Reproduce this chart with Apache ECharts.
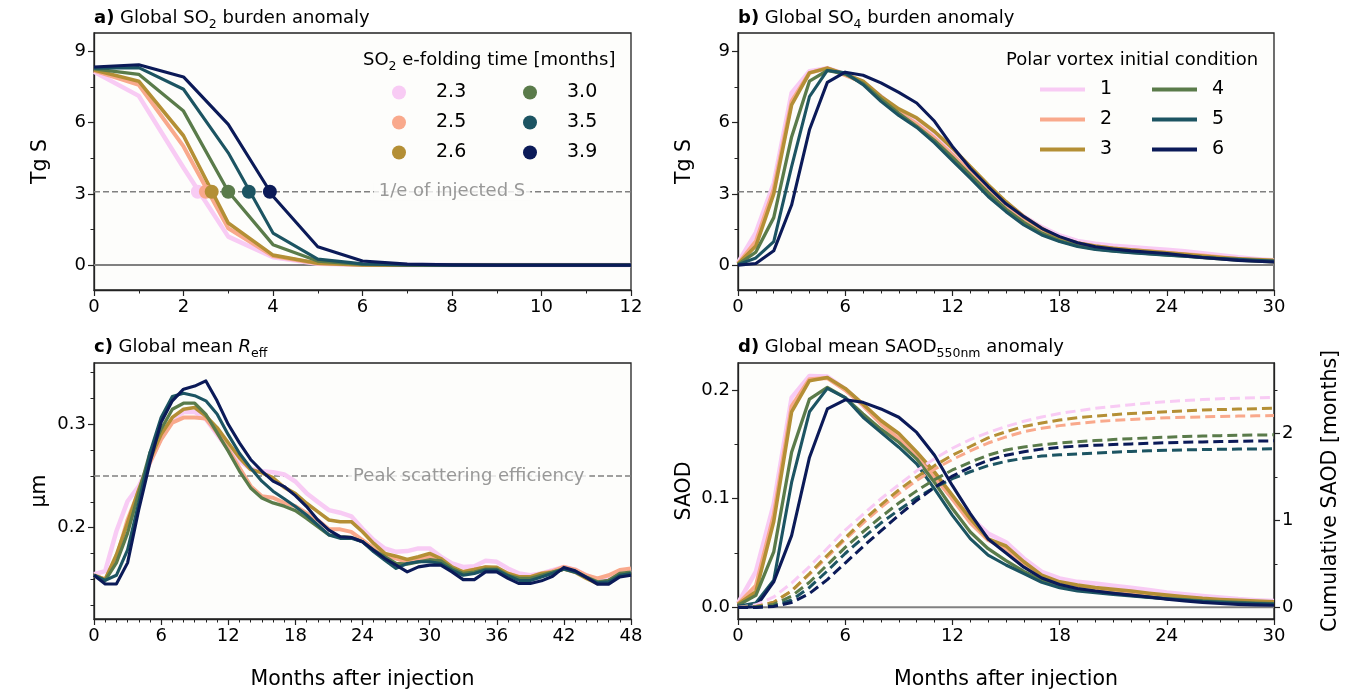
<!DOCTYPE html>
<html><head><meta charset="utf-8">
<script src="https://cdn.jsdelivr.net/npm/echarts@6/dist/echarts.min.js"></script>
<style>html,body{margin:0;padding:0;background:#fff}#c{width:1352px;height:695px}</style>
</head><body><div id="c"></div>
<script>
// ---------------- DATA ----------------
const efoldNames = ['2.3','2.5','2.6','3.0','3.5','3.9'];
const efoldTimes = [2.32, 2.5, 2.63, 3.0, 3.46, 3.93];
const vortexNames = ['1','2','3','4','5','6'];
const oneOverE = 3.09;
const peakScatter = 0.25;
const efoldLabelX = 8;
const peakLabelX = 33.5;

// a) SO2 burden, months 0..12
const so2_1 = [8.15, 7.13, 4.1, 1.2, 0.33, 0.06, 0.01, 0, 0, 0, 0, 0, 0];
const so2_2 = [8.2, 7.6, 5.0, 1.55, 0.38, 0.07, 0.01, 0, 0, 0, 0, 0, 0];
const so2_3 = [8.22, 7.75, 5.45, 1.77, 0.42, 0.08, 0.01, 0, 0, 0, 0, 0, 0];
const so2_4 = [8.27, 8.04, 6.49, 3.1, 0.86, 0.17, 0.03, 0.005, 0, 0, 0, 0, 0];
const so2_5 = [8.3, 8.32, 7.41, 4.73, 1.35, 0.25, 0.05, 0.01, 0, 0, 0, 0, 0];
const so2_6 = [8.35, 8.44, 7.93, 5.93, 2.9, 0.77, 0.17, 0.04, 0.01, 0, 0, 0, 0];

// b) SO4 burden, months 0..30
const so4_1 = [0.1,1.37,3.45,7.25,8.17,8.3,8.05,7.7,7.1,6.5,6.05,5.45,4.75,4.0,3.3,2.62,2.05,1.6,1.25,1.02,0.9,0.82,0.76,0.7,0.65,0.58,0.5,0.42,0.33,0.26,0.2];
const so4_2 = [0.05,1.0,3.2,6.9,8.1,8.3,8.0,7.7,7.05,6.45,5.95,5.35,4.65,3.9,3.2,2.5,1.95,1.5,1.15,0.92,0.78,0.7,0.63,0.58,0.52,0.46,0.4,0.33,0.26,0.2,0.15];
const so4_3 = [0.05,0.8,3.0,6.75,8.1,8.3,8.05,7.75,7.11,6.58,6.2,5.63,4.93,4.15,3.38,2.67,2.04,1.55,1.15,0.93,0.8,0.71,0.64,0.58,0.52,0.45,0.38,0.32,0.27,0.23,0.2];
const so4_4 = [0.03,0.55,2.0,5.4,7.75,8.2,8.05,7.65,7.0,6.4,5.85,5.25,4.55,3.8,3.05,2.35,1.8,1.35,1.02,0.82,0.68,0.6,0.54,0.48,0.43,0.38,0.32,0.26,0.21,0.17,0.14];
const so4_5 = [0.02,0.3,0.99,4.15,7.1,8.2,8.1,7.6,6.9,6.3,5.8,5.15,4.4,3.66,2.89,2.25,1.69,1.27,0.99,0.78,0.66,0.58,0.52,0.47,0.42,0.37,0.32,0.28,0.24,0.2,0.17];
const so4_6 = [0,0.07,0.6,2.53,5.7,7.7,8.13,8.0,7.68,7.28,6.83,6.06,5.0,4.08,3.31,2.58,2.04,1.55,1.2,0.94,0.77,0.68,0.6,0.54,0.49,0.4,0.32,0.26,0.2,0.16,0.13];

// c) Reff (um), months 0..48
const reff_1 = [0.155,0.158,0.1965,0.2256,0.24,0.263,0.2868,0.3033,0.312,0.312,0.3049,0.2903,0.2757,0.2644,0.257,0.2547,0.2537,0.2515,0.2447,0.2334,0.225,0.217,0.2145,0.211,0.199,0.1881,0.1799,0.1767,0.1774,0.18,0.18,0.172,0.1654,0.162,0.1628,0.168,0.167,0.1605,0.1557,0.154,0.1557,0.159,0.162,0.1595,0.154,0.1498,0.1524,0.157,0.159];
const reff_2 = [0.154,0.15,0.1705,0.2078,0.2353,0.263,0.2854,0.3017,0.3065,0.3065,0.3055,0.292,0.2757,0.2579,0.2402,0.2305,0.229,0.224,0.2208,0.214,0.2075,0.1984,0.1984,0.196,0.188,0.18,0.1735,0.1702,0.167,0.1693,0.172,0.169,0.16,0.1573,0.1595,0.1616,0.1606,0.1557,0.1524,0.1524,0.1557,0.158,0.162,0.1595,0.154,0.151,0.154,0.159,0.1606];
const reff_3 = [0.154,0.15,0.1738,0.2046,0.2369,0.266,0.2903,0.3067,0.3146,0.3162,0.3081,0.2968,0.2822,0.2677,0.2563,0.2531,0.2483,0.239,0.233,0.2236,0.2155,0.2075,0.2058,0.2058,0.1961,0.1848,0.1751,0.1725,0.1693,0.172,0.1751,0.1702,0.162,0.1573,0.1595,0.162,0.1616,0.1557,0.1524,0.1524,0.1557,0.157,0.16,0.157,0.151,0.146,0.149,0.155,0.156];
const reff_4 = [0.154,0.149,0.166,0.1948,0.2337,0.2725,0.2952,0.3146,0.3204,0.3204,0.3096,0.2919,0.2741,0.2548,0.2385,0.2288,0.224,0.2208,0.2165,0.209,0.201,0.193,0.1913,0.1906,0.1864,0.1783,0.172,0.1654,0.1648,0.167,0.169,0.168,0.1606,0.1557,0.157,0.16,0.16,0.154,0.151,0.151,0.154,0.157,0.16,0.158,0.1524,0.1476,0.149,0.1557,0.157];
const reff_5 = [0.154,0.149,0.154,0.1786,0.224,0.2725,0.3067,0.327,0.33,0.3277,0.3227,0.31,0.29,0.272,0.2578,0.245,0.2353,0.228,0.2205,0.2123,0.2026,0.193,0.1897,0.1897,0.1864,0.1767,0.1686,0.1606,0.1654,0.167,0.167,0.1654,0.159,0.154,0.1557,0.159,0.159,0.1535,0.149,0.149,0.1524,0.156,0.16,0.157,0.152,0.1467,0.1476,0.154,0.1557];
const reff_6 = [0.154,0.1456,0.1456,0.166,0.2175,0.263,0.302,0.3227,0.334,0.337,0.342,0.3227,0.3,0.282,0.266,0.2548,0.245,0.2398,0.231,0.2204,0.2075,0.1977,0.1913,0.1906,0.1864,0.1783,0.1702,0.1638,0.1573,0.1621,0.1638,0.1638,0.1573,0.1498,0.1498,0.1573,0.1573,0.151,0.146,0.146,0.1486,0.153,0.1616,0.1584,0.152,0.1454,0.1454,0.1524,0.154];

// d) SAOD anomaly, months 0..30
const saod_1 = [0.004,0.033,0.095,0.193,0.213,0.2125,0.201,0.186,0.17,0.157,0.14,0.122,0.1,0.083,0.068,0.06,0.045,0.0327,0.0266,0.0235,0.022,0.02,0.018,0.016,0.0138,0.012,0.0104,0.009,0.0076,0.0066,0.0058];
const saod_2 = [0.003,0.02,0.085,0.185,0.21,0.211,0.2,0.186,0.169,0.155,0.138,0.12,0.1,0.078,0.062,0.054,0.04,0.028,0.021,0.018,0.016,0.0145,0.013,0.0115,0.01,0.0085,0.007,0.006,0.0055,0.005,0.0045];
const saod_3 = [0.003,0.0144,0.079,0.18,0.2086,0.2116,0.2015,0.187,0.172,0.16,0.143,0.1245,0.103,0.0817,0.063,0.0565,0.042,0.0297,0.0235,0.0205,0.0183,0.0166,0.015,0.013,0.0113,0.0098,0.0083,0.0073,0.0064,0.0058,0.0052];
const saod_4 = [0.002,0.011,0.051,0.1428,0.1917,0.2024,0.193,0.178,0.164,0.152,0.1367,0.115,0.091,0.0694,0.054,0.043,0.033,0.025,0.019,0.016,0.0145,0.0128,0.011,0.0095,0.008,0.007,0.006,0.0052,0.0045,0.004,0.0035];
const saod_5 = [0.001,0.004,0.025,0.115,0.18,0.2015,0.193,0.175,0.161,0.1474,0.132,0.109,0.0847,0.0633,0.048,0.039,0.031,0.023,0.018,0.015,0.0135,0.012,0.0105,0.0092,0.008,0.0068,0.0055,0.0047,0.004,0.0035,0.003];
const saod_6 = [0,0.0006,0.0235,0.066,0.138,0.1826,0.191,0.1887,0.1826,0.175,0.161,0.14,0.112,0.0863,0.063,0.05,0.037,0.027,0.021,0.0174,0.015,0.013,0.0113,0.0095,0.0076,0.006,0.0046,0.0036,0.0028,0.0023,0.002];

// d) cumulative SAOD (months), months 0..30
const cum_1 = [0,0.03,0.12,0.28,0.47,0.68,0.89,1.07,1.25,1.41,1.57,1.71,1.83,1.93,2.01,2.08,2.14,2.19,2.23,2.26,2.29,2.31,2.33,2.35,2.365,2.38,2.39,2.4,2.405,2.41,2.416];
const cum_2 = [0,0.01,0.06,0.19,0.38,0.58,0.78,0.97,1.15,1.31,1.46,1.59,1.7,1.8,1.89,1.96,2.02,2.06,2.09,2.115,2.135,2.15,2.16,2.17,2.18,2.185,2.19,2.195,2.2,2.203,2.206];
const cum_3 = [0,0.01,0.06,0.19,0.39,0.6,0.8,1.0,1.18,1.35,1.5,1.63,1.75,1.85,1.95,2.02,2.08,2.12,2.155,2.18,2.2,2.215,2.23,2.24,2.25,2.26,2.27,2.275,2.28,2.285,2.29];
const cum_4 = [0,0.005,0.035,0.13,0.29,0.49,0.69,0.87,1.04,1.2,1.34,1.47,1.58,1.67,1.75,1.81,1.845,1.87,1.89,1.905,1.918,1.93,1.94,1.95,1.957,1.965,1.97,1.975,1.979,1.982,1.984];
const cum_5 = [0,0.002,0.015,0.085,0.23,0.42,0.62,0.8,0.97,1.12,1.26,1.38,1.48,1.56,1.63,1.68,1.715,1.74,1.755,1.765,1.775,1.785,1.793,1.8,1.806,1.811,1.815,1.818,1.82,1.822,1.823];
const cum_6 = [0,0.0003,0.012,0.057,0.16,0.32,0.51,0.7,0.88,1.06,1.23,1.38,1.51,1.61,1.69,1.75,1.79,1.82,1.84,1.855,1.865,1.873,1.88,1.887,1.893,1.898,1.903,1.907,1.91,1.913,1.915];

// tick values
const ticksTg = [0, 3, 6, 9];
const minorTg = [1.5, 4.5, 7.5];
const ticksReff = [0.2, 0.3];
const minorReff = [0.125, 0.15, 0.175, 0.225, 0.25, 0.275, 0.325, 0.35];
const ticksSaod = [0, 0.1, 0.2];
const minorSaod = [0.05, 0.15];
const ticksCum = [0, 1, 2];
const minorCum = [0.5, 1.5, 2.5];

// ---------------- STYLE ----------------
const COLORS = ['#F8CBF4', '#F9A98C', '#B48F35', '#5A7B4A', '#1C5462', '#0B1A58'];
const WIDTHS = [4.5, 4, 3.6, 3.3, 3.1, 3.1];
const BG = '#fdfdfb';
const INK = '#222222';
const FONT = 'DejaVu Sans';
const GRAY = '#808080';
const NAME_SIZE = 20.5;

const so2 = [so2_1, so2_2, so2_3, so2_4, so2_5, so2_6];
const so4 = [so4_1, so4_2, so4_3, so4_4, so4_5, so4_6];
const reff = [reff_1, reff_2, reff_3, reff_4, reff_5, reff_6];
const saod = [saod_1, saod_2, saod_3, saod_4, saod_5, saod_6];
const cum = [cum_1, cum_2, cum_3, cum_4, cum_5, cum_6];

const pairs = arr => arr.map((v, i) => [i, v]);

const grids = [
  {left: 94, top: 33, width: 537, height: 257},
  {left: 738, top: 33, width: 536, height: 257},
  {left: 94, top: 363, width: 537, height: 256},
  {left: 738, top: 363, width: 536, height: 256}
].map(g => Object.assign(g, {show: true, backgroundColor: BG, borderColor: INK, borderWidth: 1.3, containLabel: false}));

function xAx(grid, max, interval, split, name) {
  return {
    type: 'value', gridIndex: grid, min: 0, max: max, interval: interval,
    axisLine: {show: true, onZero: false, lineStyle: {color: INK, width: 1.3}},
    axisTick: {show: true, length: 6, lineStyle: {color: INK, width: 1.2}},
    minorTick: {show: true, splitNumber: split, length: 3.5, lineStyle: {color: INK, width: 1}},
    splitLine: {show: false}, minorSplitLine: {show: false},
    axisLabel: {fontSize: 18, color: '#000', fontFamily: FONT, margin: 8},
    name: name || '', nameLocation: 'middle', nameGap: 50,
    nameTextStyle: {fontSize: NAME_SIZE, color: '#000', fontFamily: FONT}
  };
}
function yMain(grid, min, max, ticks, fmt, name, pos, gap) {
  return {
    type: 'value', gridIndex: grid, min: min, max: max, position: pos || 'left',
    axisLine: {show: true, onZero: false, lineStyle: {color: INK, width: 1.3}},
    axisTick: {show: true, length: 6, customValues: ticks, lineStyle: {color: INK, width: 1.2}},
    axisLabel: {show: true, customValues: ticks, fontSize: 18, color: '#000', fontFamily: FONT, margin: 8, formatter: fmt},
    splitLine: {show: false},
    name: name, nameLocation: 'middle', nameGap: gap, nameRotate: 90,
    nameTextStyle: {fontSize: NAME_SIZE, color: '#000', fontFamily: FONT}
  };
}
function yMinor(grid, min, max, ticks, pos) {
  return {
    type: 'value', gridIndex: grid, min: min, max: max, position: pos || 'left',
    axisLine: {show: false, onZero: false},
    axisTick: {show: true, length: 3.5, customValues: ticks, lineStyle: {color: INK, width: 1}},
    axisLabel: {show: false},
    splitLine: {show: false}
  };
}

const xAxis = [
  xAx(0, 12, 2, 2),
  xAx(1, 30, 6, 6),
  xAx(2, 48, 6, 6, 'Months after injection'),
  xAx(3, 30, 6, 6, 'Months after injection')
];
const yAxis = [
  yMain(0, -1.05, 9.78, ticksTg, v => String(v), 'Tg S', 'left', 43),
  yMinor(0, -1.05, 9.78, minorTg),
  yMain(1, -1.05, 9.78, ticksTg, v => String(v), 'Tg S', 'left', 43),
  yMinor(1, -1.05, 9.78, minorTg),
  yMain(2, 0.1117, 0.3593, ticksReff, v => v.toFixed(1), 'µm', 'left', 44),
  yMinor(2, 0.1117, 0.3593, minorReff),
  yMain(3, -0.0107, 0.2249, ticksSaod, v => v.toFixed(1), 'SAOD', 'left', 43),
  yMinor(3, -0.0107, 0.2249, minorSaod),
  yMain(3, -0.133, 2.81, ticksCum, v => String(v), 'Cumulative SAOD [months]', 'right', 46),
  yMinor(3, -0.133, 2.81, minorCum, 'right')
];

const series = [];
function refLine(xi, yi, xmax, y, dashed, z) {
  series.push({
    type: 'line', xAxisIndex: xi, yAxisIndex: yi, data: [[0, y], [xmax, y]],
    symbol: 'none', silent: true, z: z,
    lineStyle: {color: GRAY, width: dashed ? 1.5 : 2, type: dashed ? [6, 3] : 'solid'}
  });
}
function lineSeries(name, xi, yi, arr, k, dashed) {
  series.push({
    name: name, type: 'line', xAxisIndex: xi, yAxisIndex: yi, data: pairs(arr),
    symbol: 'none', silent: true, z: 3,
    lineStyle: {color: COLORS[k], width: dashed ? 3 : WIDTHS[k], type: dashed ? [10, 5] : 'solid', cap: 'butt', join: 'round'},
    itemStyle: {color: COLORS[k]}
  });
}
function textMark(xi, yi, x, y, txt) {
  series.push({
    type: 'scatter', xAxisIndex: xi, yAxisIndex: yi, data: [[x, y]], symbolSize: 1, silent: true, z: 2,
    itemStyle: {color: 'rgba(0,0,0,0)'},
    label: {show: true, position: 'inside', formatter: txt, color: GRAY, fontSize: 18, fontFamily: FONT,
            backgroundColor: BG, padding: [0, 5]}
  });
}

// panel a
refLine(0, 0, 12, 0, false, 1);
refLine(0, 0, 12, oneOverE, true, 1);
textMark(0, 0, efoldLabelX, oneOverE, '1/e of injected S');
so2.forEach((arr, k) => lineSeries('a' + k, 0, 0, arr, k));
efoldTimes.forEach((t, k) => series.push({
  name: efoldNames[k], type: 'scatter', xAxisIndex: 0, yAxisIndex: 0, data: [[t, oneOverE]],
  symbol: 'circle', symbolSize: 14, z: 4, silent: true, itemStyle: {color: COLORS[k], opacity: 1}
}));
// panel b
refLine(1, 2, 30, 0, false, 1);
refLine(1, 2, 30, oneOverE, true, 1);
so4.forEach((arr, k) => lineSeries(vortexNames[k], 1, 2, arr, k));
// panel c
refLine(2, 4, 48, peakScatter, true, 1);
textMark(2, 4, peakLabelX, peakScatter, 'Peak scattering efficiency');
reff.forEach((arr, k) => lineSeries('c' + k, 2, 4, arr, k));
// panel d
refLine(3, 6, 30, 0, false, 1);
saod.forEach((arr, k) => lineSeries('d' + k, 3, 6, arr, k));
cum.forEach((arr, k) => lineSeries('e' + k, 3, 8, arr, k, true));

const titleStyle = {
  fontSize: 18, fontWeight: 'normal', color: '#000', fontFamily: FONT, lineHeight: 26,
  rich: {
    b: {fontSize: 18, fontWeight: 'bold', fontFamily: FONT, color: '#000', lineHeight: 26},
    s: {fontSize: 12.5, fontFamily: FONT, color: '#000', lineHeight: 13, verticalAlign: 'bottom'},
    i: {fontSize: 18, fontStyle: 'italic', fontFamily: FONT, color: '#000', lineHeight: 26}
  }
};
const title = [
  {left: 94, top: 5, padding: 0, text: '{b|a)} Global SO{s|2} burden anomaly', textStyle: titleStyle},
  {left: 738, top: 5, padding: 0, text: '{b|b)} Global SO{s|4} burden anomaly', textStyle: titleStyle},
  {left: 94, top: 334, padding: 0, text: '{b|c)} Global mean {i|R}{s|eff}', textStyle: titleStyle},
  {left: 738, top: 334, padding: 0, text: '{b|d)} Global mean SAOD{s|550nm} anomaly', textStyle: titleStyle},
  {left: 363, top: 47, padding: 0, text: 'SO{s|2} e-folding time [months]', textStyle: titleStyle},
  {left: 1006, top: 47, padding: 0, text: 'Polar vortex initial condition', textStyle: titleStyle}
];

function leg(left, top, names, w, h, pad, icon) {
  const o = {
    orient: 'vertical', left: left, top: top, padding: 0, itemGap: 10,
    itemWidth: w, itemHeight: h, selectedMode: false, data: names,
    textStyle: {fontSize: 19, color: '#000', fontFamily: FONT, lineHeight: 20, padding: [0, 0, 0, pad]}
  };
  if (icon) o.icon = icon;
  return o;
}
const legend = [
  leg(392, 82.5, efoldNames.slice(0, 3), 64, 14, 0),
  leg(523, 82.5, efoldNames.slice(3), 64, 14, 0),
  leg(1040, 79.5, vortexNames.slice(0, 3), 45, 4, 10, 'rect'),
  leg(1152, 79.5, vortexNames.slice(3), 45, 4, 10, 'rect')
];

const chart = echarts.init(document.getElementById('c'), null, {renderer: 'canvas'});
chart.setOption({
  animation: false, backgroundColor: '#ffffff',
  textStyle: {fontFamily: FONT},
  title: title, legend: legend, grid: grids, xAxis: xAxis, yAxis: yAxis, series: series
});
</script></body></html>
